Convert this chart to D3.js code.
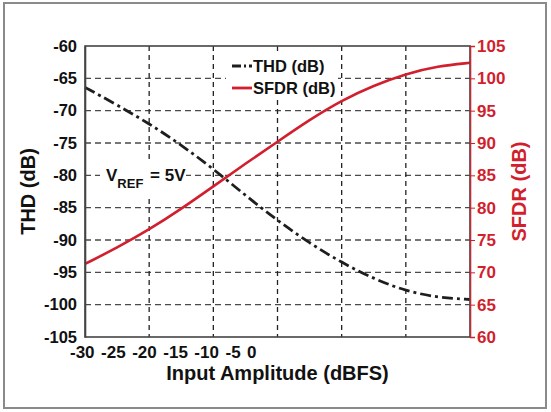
<!DOCTYPE html>
<html>
<head>
<meta charset="utf-8">
<script src="https://cdn.jsdelivr.net/npm/d3@7"></script>
<style>
  body { margin: 0; background: #fff; }
  text { font-family: "Liberation Sans", Arial, sans-serif; font-weight: bold; }
</style>
</head>
<body>
<script>
// input amplitude (dBFS) sample points
const inputAmp = [-30, -27.5, -25, -22.5, -20, -17.5, -15, -12.5, -10, -7.5, -5, -2.5, 0];
const thdValues = [-66.4, -69.1, -72.0, -75.3, -79.0, -83.1, -87.0, -90.5, -93.5, -96.0, -97.9, -98.9, -99.2];
const sfdrValues = [71.3, 73.8, 76.6, 79.8, 83.3, 86.8, 90.2, 93.6, 96.6, 98.9, 100.7, 101.9, 102.4];

const xGrid = [-30, -25, -20, -15, -10, -5, 0];
const xLabels = ['-30', '-25', '-20', '-15', '-10', '-5', '0'];
const thdTicks = [-105, -100, -95, -90, -85, -80, -75, -70, -65, -60];
const sfdrTicks = [60, 65, 70, 75, 80, 85, 90, 95, 100, 105];

const W = 551, H = 412;
const margin = { left: 85, top: 46, right: 81, bottom: 75 };
const width = W - margin.left - margin.right;   // 385
const height = H - margin.top - margin.bottom;  // 291
const red = '#d21f2e';

const svg = d3.select('body').append('svg')
    .attr('width', W)
    .attr('height', H);

// outer frame
svg.append('rect')
    .attr('x', 4).attr('y', 3)
    .attr('width', 542).attr('height', 405)
    .attr('fill', 'none')
    .attr('stroke', '#8a8a8a')
    .attr('stroke-width', 2);

const g = svg.append('g').attr('transform', `translate(${margin.left},${margin.top})`);

const x = d3.scaleLinear().domain([-30, 0]).range([0, width]);
const yL = d3.scaleLinear().domain([-105, -60]).range([height, 0]);
const yR = d3.scaleLinear().domain([60, 105]).range([height, 0]);

// grid
g.append('g')
    .selectAll('line')
    .data(thdTicks.slice(1, -1))
    .join('line')
    .attr('x1', 0).attr('x2', width)
    .attr('y1', d => yL(d)).attr('y2', d => yL(d))
    .attr('stroke', '#4a4a4a')
    .attr('stroke-width', 1.3)
    .attr('stroke-dasharray', '6,4');

g.append('g')
    .selectAll('line')
    .data(xGrid.slice(1, -1))
    .join('line')
    .attr('x1', d => x(d)).attr('x2', d => x(d))
    .attr('y1', 0).attr('y2', height)
    .attr('stroke', '#222')
    .attr('stroke-width', 1.3)
    .attr('stroke-dasharray', '5,4');

// lines
const thdLine = d3.line()
    .x((d, i) => x(inputAmp[i]))
    .y(d => yL(d))
    .curve(d3.curveBasis);

const sfdrLine = d3.line()
    .x((d, i) => x(inputAmp[i]))
    .y(d => yR(d))
    .curve(d3.curveBasis);

g.append('path')
    .datum(sfdrValues)
    .attr('fill', 'none')
    .attr('stroke', red)
    .attr('stroke-width', 2.6)
    .attr('d', sfdrLine);

g.append('path')
    .datum(thdValues)
    .attr('fill', 'none')
    .attr('stroke', '#1e1e1e')
    .attr('stroke-width', 2.8)
    .attr('stroke-dasharray', '11,4,3,4')
    .attr('d', thdLine);

// V_REF annotation
svg.append('rect')
    .attr('x', 100).attr('y', 162)
    .attr('width', 86).attr('height', 34)
    .attr('fill', '#fff');

const vref = svg.append('text')
    .attr('x', 106).attr('y', 181)
    .attr('font-size', 17)
    .attr('fill', '#111');
vref.append('tspan').text('V');
vref.append('tspan').attr('font-size', 13).attr('dy', 7).text('REF');
vref.append('tspan').attr('dy', -7).attr('dx', 2).text(' = 5V');

// legend
svg.append('rect')
    .attr('x', 226).attr('y', 52)
    .attr('width', 112).attr('height', 48)
    .attr('fill', '#fff');

const legend = svg.append('g').attr('transform', 'translate(232,0)');
legend.append('line')
    .attr('x1', 0).attr('x2', 20)
    .attr('y1', 66).attr('y2', 66)
    .attr('stroke', '#1e1e1e')
    .attr('stroke-width', 2.8)
    .attr('stroke-dasharray', '9,3,2,3');
legend.append('text')
    .attr('x', 21).attr('y', 72)
    .attr('font-size', 16.5)
    .attr('fill', '#111')
    .text('THD (dB)');
legend.append('line')
    .attr('x1', 0).attr('x2', 20)
    .attr('y1', 88).attr('y2', 88)
    .attr('stroke', red)
    .attr('stroke-width', 2.8);
legend.append('text')
    .attr('x', 21).attr('y', 94)
    .attr('font-size', 16.5)
    .attr('fill', '#111')
    .text('SFDR (dB)');

// plot frame
g.append('rect')
    .attr('width', width).attr('height', height)
    .attr('fill', 'none')
    .attr('stroke', '#444')
    .attr('stroke-width', 1.6);

// left axis
const axL = g.append('g')
    .call(d3.axisLeft(yL).tickValues(thdTicks).tickSize(0).tickPadding(8).tickFormat(d => String(d)));
axL.select('.domain').attr('stroke', '#444').attr('stroke-width', 1.6);
axL.selectAll('text')
    .attr('font-size', 16.5)
    .attr('font-family', '"Liberation Sans", Arial, sans-serif')
    .attr('fill', '#111');

// right axis
const axR = g.append('g')
    .attr('transform', `translate(${width},0)`)
    .call(d3.axisRight(yR).tickValues(sfdrTicks).tickSize(5).tickPadding(2).tickFormat(d => String(d)));
axR.select('.domain').attr('stroke', '#b8303a').attr('stroke-width', 1.6);
axR.selectAll('.tick line').attr('stroke', red);
axR.selectAll('text')
    .attr('font-size', 17)
    .attr('font-family', '"Liberation Sans", Arial, sans-serif')
    .attr('fill', red);

// x tick labels (crowded at the left as in the original)
svg.append('text')
    .attr('x', 70).attr('y', 358)
    .attr('font-size', 17)
    .attr('word-spacing', 1.8)
    .attr('fill', '#111')
    .text(xLabels.join(' '));

// axis titles
svg.append('text')
    .attr('transform', `translate(35,${margin.top + height / 2}) rotate(-90)`)
    .attr('text-anchor', 'middle')
    .attr('font-size', 20)
    .attr('fill', '#111')
    .text('THD (dB)');

svg.append('text')
    .attr('transform', `translate(526,${margin.top + height / 2}) rotate(-90)`)
    .attr('text-anchor', 'middle')
    .attr('font-size', 20)
    .attr('fill', red)
    .text('SFDR (dB)');

svg.append('text')
    .attr('x', margin.left + width / 2).attr('y', 380)
    .attr('text-anchor', 'middle')
    .attr('font-size', 20)
    .attr('fill', '#111')
    .text('Input Amplitude (dBFS)');
</script>
</body>
</html>
